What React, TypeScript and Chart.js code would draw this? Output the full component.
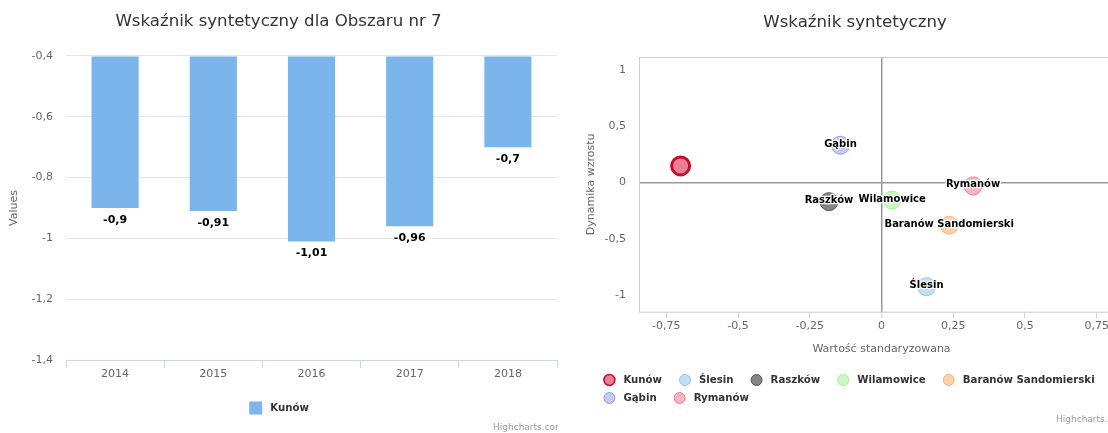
import React, { useEffect, useRef } from 'react';
import { Chart, registerables } from 'chart.js';

Chart.register(...registerables);
Chart.defaults.font.family = '"DejaVu Sans", sans-serif';

// ---------- Bar chart data ----------
const BAR_TITLE = 'Wskaźnik syntetyczny dla Obszaru nr 7';
const YEARS = ['2014', '2015', '2016', '2017', '2018'];
const BAR_SERIES = 'Kunów';
const KUNOW_VALUES = [-0.9, -0.91, -1.01, -0.96, -0.7];
const BAR_Y_TITLE = 'Values';
const BAR_Y_MIN = -1.4;
const BAR_Y_MAX = -0.4;
const BAR_Y_STEP = 0.2;

// ---------- Scatter chart data ----------
const SCATTER_TITLE = 'Wskaźnik syntetyczny';
const GMINY = ['Kunów', 'Ślesin', 'Raszków', 'Wilamowice', 'Baranów Sandomierski', 'Gąbin', 'Rymanów'];
const X_VALUES = [-0.7, 0.157, -0.183, 0.037, 0.236, -0.143, 0.319];
const Y_VALUES = [0.147, -0.924, -0.17, -0.155, -0.379, 0.33, -0.03];
const HIGHLIGHTED = 'Kunów';
const X_TITLE = 'Wartość standaryzowana';
const Y_TITLE = 'Dynamika wzrostu';
const X_MIN = -0.845;
const X_MAX = 0.845;
const X_STEP = 0.25;
const Y_MIN = -1.145;
const Y_MAX = 1.112;
const Y_STEP = 0.5;

const FILLS = [
  'rgba(220,20,60,0.55)',
  'rgba(124,181,236,0.45)',
  'rgba(67,67,72,0.65)',
  'rgba(144,237,125,0.45)',
  'rgba(247,163,92,0.5)',
  'rgba(128,133,233,0.45)',
  'rgba(241,92,128,0.45)',
];
const STROKES = [
  '#c40f30',
  'rgba(124,181,236,0.75)',
  'rgba(67,67,72,0.85)',
  'rgba(144,237,125,0.75)',
  'rgba(247,163,92,0.75)',
  'rgba(128,133,233,0.75)',
  'rgba(241,92,128,0.75)',
];

const FONT = '"DejaVu Sans", sans-serif';
const fmt = (v: number) => String(Math.round(Number(v) * 100) / 100).replace('.', ',');

function outlinedText(ctx: CanvasRenderingContext2D, text: string, x: number, y: number) {
  ctx.lineJoin = 'round';
  ctx.lineWidth = 2.5;
  ctx.strokeStyle = '#ffffff';
  ctx.strokeText(text, x, y);
  ctx.fillStyle = '#000000';
  ctx.fillText(text, x, y);
}

function creditsPlugin(x: number, y: number) {
  return {
    id: 'credits',
    afterDraw(chart: any) {
      const ctx = chart.ctx;
      ctx.save();
      ctx.font = `9px ${FONT}`;
      ctx.fillStyle = '#999999';
      ctx.textAlign = 'left';
      ctx.textBaseline = 'middle';
      ctx.fillText('Highcharts.com', x, y);
      ctx.restore();
    },
  };
}

const barLabels = {
  id: 'barLabels',
  afterDatasetsDraw(chart: any) {
    const ctx = chart.ctx;
    const meta = chart.getDatasetMeta(0);
    const data = chart.data.datasets[0].data;
    ctx.save();
    ctx.font = `bold 11px ${FONT}`;
    ctx.textAlign = 'center';
    ctx.textBaseline = 'middle';
    meta.data.forEach((el: any, i: number) => {
      outlinedText(ctx, fmt(data[i]), el.x, el.y + 12);
    });
    ctx.restore();
  },
};

const barLegend = {
  id: 'barLegend',
  afterDraw(chart: any) {
    const ctx = chart.ctx;
    const ds = chart.data.datasets[0];
    ctx.save();
    ctx.font = `bold 10.2px ${FONT}`;
    const tw = ctx.measureText(ds.label).width;
    const sym = 13;
    const gap = 8;
    const total = sym + gap + tw;
    const x0 = chart.width / 2 - total / 2;
    const cy = 408;
    ctx.fillStyle = ds.backgroundColor;
    ctx.fillRect(x0, cy - sym / 2, sym, sym);
    ctx.fillStyle = '#333333';
    ctx.textBaseline = 'middle';
    ctx.textAlign = 'left';
    ctx.fillText(ds.label, x0 + sym + gap, cy);
    ctx.restore();
  },
};

const plotBorder = {
  id: 'plotBorder',
  beforeDatasetsDraw(chart: any) {
    const { ctx, chartArea } = chart;
    ctx.save();
    ctx.strokeStyle = '#cccccc';
    ctx.lineWidth = 1;
    ctx.strokeRect(chartArea.left + 0.5, chartArea.top + 0.5, chartArea.right - chartArea.left, chartArea.bottom - chartArea.top);
    ctx.restore();
  },
};

const scatterLabels = {
  id: 'scatterLabels',
  afterDatasetsDraw(chart: any) {
    const ctx = chart.ctx;
    ctx.save();
    ctx.font = `bold 10px ${FONT}`;
    ctx.textAlign = 'center';
    ctx.textBaseline = 'middle';
    chart.data.datasets.forEach((ds: any, i: number) => {
      if (ds.label === HIGHLIGHTED) return;
      const el = chart.getDatasetMeta(i).data[0];
      if (!el) return;
      outlinedText(ctx, ds.label, el.x, el.y - 1);
    });
    ctx.restore();
  },
};

const scatterLegend = {
  id: 'scatterLegend',
  afterDraw(chart: any) {
    const ctx = chart.ctx;
    ctx.save();
    ctx.font = `bold 10.2px ${FONT}`;
    ctx.textBaseline = 'middle';
    ctx.textAlign = 'left';
    const symOff = 6;
    const textOff = 20;
    const dist = 17;
    const maxRow = 505;
    const items = chart.data.datasets.map((ds: any) => ({
      ds,
      w: textOff + ctx.measureText(ds.label).width,
    }));
    const rows: any[][] = [[]];
    let rowW = 0;
    items.forEach((it: any) => {
      const add = (rows[rows.length - 1].length ? dist : 0) + it.w;
      if (rows[rows.length - 1].length && rowW + add > maxRow) {
        rows.push([it]);
        rowW = it.w;
      } else {
        rows[rows.length - 1].push(it);
        rowW += add;
      }
    });
    const widths = rows.map((r) => r.reduce((s, it, k) => s + it.w + (k ? dist : 0), 0));
    const maxW = Math.max(...widths);
    const x0 = (chart.width - maxW) / 2 - 6;
    const rowY = [380, 398];
    rows.forEach((r, ri) => {
      let x = x0;
      const cy = rowY[ri] ?? 380 + ri * 18;
      r.forEach((it: any) => {
        const ds = it.ds;
        ctx.beginPath();
        ctx.arc(x + symOff, cy, 5.5, 0, Math.PI * 2);
        ctx.fillStyle = '#ffffff';
        ctx.fill();
        ctx.fillStyle = ds.backgroundColor;
        ctx.fill();
        ctx.lineWidth = ds.label === HIGHLIGHTED ? 1.5 : 1;
        ctx.strokeStyle = ds.borderColor;
        ctx.stroke();
        ctx.fillStyle = '#333333';
        ctx.fillText(ds.label, x + textOff, cy);
        x += it.w + dist;
      });
    });
    ctx.restore();
  },
};

export default function App() {
  const barRef = useRef<HTMLCanvasElement | null>(null);
  const scRef = useRef<HTMLCanvasElement | null>(null);

  useEffect(() => {
    const bar = new Chart(barRef.current as HTMLCanvasElement, {
      type: 'bar',
      data: {
        labels: YEARS,
        datasets: [
          {
            label: BAR_SERIES,
            data: KUNOW_VALUES,
            backgroundColor: '#7cb5ec',
            base: BAR_Y_MAX,
            categoryPercentage: 0.6,
            barPercentage: 0.8,
          } as any,
        ],
      },
      options: {
        responsive: false,
        animation: false,
        devicePixelRatio: 1,
        events: [],
        layout: { autoPadding: false, padding: { left: 0, right: 1, top: 0, bottom: 43 } },
        plugins: {
          legend: { display: false },
          tooltip: { enabled: false },
          title: {
            display: true,
            text: BAR_TITLE,
            color: '#333333',
            font: { size: 16.6, weight: 'normal' },
            padding: { top: 12, bottom: 24 },
          },
        },
        scales: {
          x: {
            grid: { display: true, drawOnChartArea: false, drawTicks: true, tickLength: 8, color: '#ccd6eb', offset: true },
            border: { display: true, color: '#ccd6eb' },
            ticks: { color: '#666666', font: { size: 11 }, padding: 0 },
            afterFit: (s: any) => {
              s.height = 30;
              s.paddingLeft = 0;
              s.paddingRight = 0;
            },
          },
          y: {
            min: BAR_Y_MIN,
            max: BAR_Y_MAX,
            ticks: { stepSize: BAR_Y_STEP, color: '#666666', font: { size: 11 }, padding: 13, callback: (v: any) => fmt(v) },
            grid: { color: '#e6e6e6', drawTicks: false },
            border: { display: false },
            title: {
              display: true,
              text: BAR_Y_TITLE,
              color: '#666666',
              font: { size: 11 },
              padding: { top: 7.4, bottom: 0 },
            },
            afterFit: (s: any) => {
              s.width = 66;
            },
          },
        },
      } as any,
      plugins: [barLabels, barLegend, creditsPlugin(493, 428)],
    });

    const sc = new Chart(scRef.current as HTMLCanvasElement, {
      type: 'scatter',
      data: {
        datasets: GMINY.map((name, i) => ({
          label: name,
          data: [{ x: X_VALUES[i], y: Y_VALUES[i] }],
          backgroundColor: FILLS[i],
          borderColor: STROKES[i],
          borderWidth: name === HIGHLIGHTED ? 3 : 1,
          pointRadius: 9,
        })),
      },
      options: {
        responsive: false,
        animation: false,
        devicePixelRatio: 1,
        events: [],
        layout: { autoPadding: false, padding: { left: 0, right: 0, top: 0, bottom: 73.3 } },
        plugins: {
          legend: { display: false },
          tooltip: { enabled: false },
          title: {
            display: true,
            text: SCATTER_TITLE,
            color: '#333333',
            font: { size: 16.6, weight: 'normal' },
            padding: { top: 13, bottom: 24.1 },
          },
        },
        scales: {
          x: {
            type: 'linear',
            min: X_MIN,
            max: X_MAX,
            ticks: { stepSize: X_STEP, includeBounds: false, color: '#666666', font: { size: 11 }, padding: 1.2, callback: (v: any) => fmt(v) },
            grid: {
              color: (c: any) => (c.tick && c.tick.value === 0 ? '#999999' : 'rgba(0,0,0,0)'),
              lineWidth: (c: any) => (c.tick && c.tick.value === 0 ? 1.5 : 1),
              tickColor: '#ccd6eb',
              tickWidth: 1,
              tickLength: 7,
              drawTicks: true,
            },
            border: { display: false },
            title: {
              display: true,
              text: X_TITLE,
              color: '#666666',
              font: { size: 11 },
              padding: { top: 0, bottom: 4.1 },
            },
            afterFit: (s: any) => {
              s.height = 48;
              s.paddingLeft = 0;
              s.paddingRight = 0;
            },
          },
          y: {
            type: 'linear',
            min: Y_MIN,
            max: Y_MAX,
            ticks: { stepSize: Y_STEP, includeBounds: false, color: '#666666', font: { size: 11 }, padding: 13, callback: (v: any) => fmt(v) },
            grid: {
              color: (c: any) => (c.tick && c.tick.value === 0 ? '#999999' : 'rgba(0,0,0,0)'),
              lineWidth: (c: any) => (c.tick && c.tick.value === 0 ? 1.5 : 1),
              drawTicks: false,
            },
            border: { display: false },
            title: {
              display: true,
              text: Y_TITLE,
              color: '#666666',
              font: { size: 11 },
              padding: { top: -1.6, bottom: 0 },
            },
            afterFit: (s: any) => {
              s.width = 53;
            },
          },
        },
      } as any,
      plugins: [plotBorder, scatterLabels, scatterLegend, creditsPlugin(470, 420)],
    });

    return () => {
      bar.destroy();
      sc.destroy();
    };
  }, []);

  return (
    <div style={{ position: 'fixed', left: 0, top: 0, width: 1108, height: 433, overflow: 'hidden', background: '#ffffff' }}>
      <canvas ref={barRef} width={558} height={433} style={{ position: 'absolute', left: 0, top: 0 }} />
      <canvas ref={scRef} width={538} height={433} style={{ position: 'absolute', left: 586, top: 0 }} />
    </div>
  );
}
